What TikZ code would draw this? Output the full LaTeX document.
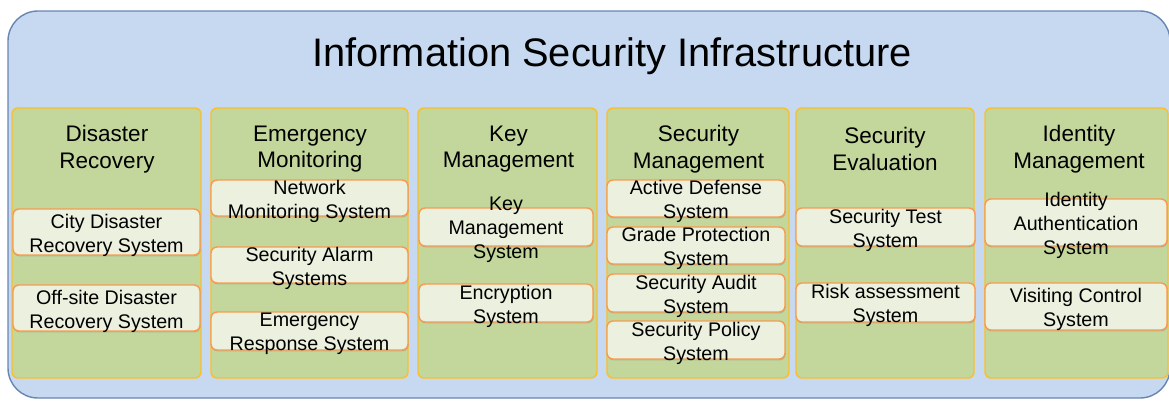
\documentclass[tikz,border=0pt]{standalone}
\usepackage{fontspec}
\setmainfont{Liberation Sans}
\usetikzlibrary{positioning,shadows}
\newdimen\px \px=0.025cm
\definecolor{infofill}{HTML}{C6D9F1}
\definecolor{infodraw}{RGB}{104,134,178}
\definecolor{areafill}{HTML}{C3D69B}
\definecolor{areadraw}{HTML}{FAC02A}
\definecolor{sysfill}{HTML}{EBF1DE}
\definecolor{sysdraw}{HTML}{F79B50}

\begin{document}
\begin{tikzpicture}[x=0.025cm,y=-0.025cm,
every node/.style={align=center},
area/.style={draw=areadraw,fill=areafill,line width=1pt,rounded corners=6\px,minimum height=270\px,inner sep=0},
areatitle/.style={font=\fontsize{16}{19}\selectfont},
sysbox/.style={draw=sysdraw,fill=sysfill,line width=1pt,rounded corners=6\px,inner sep=0,
  drop shadow={shadow xshift=0.4pt,shadow yshift=-1pt,opacity=0.35}},
systext/.style={align=center,yshift=-3\px,font=\fontsize{14}{17}\selectfont}]
\clip (0,0) rectangle (1169,401);
\draw[draw=infodraw,fill=infofill,line width=1pt,rounded corners=30\px] (8,11) rectangle (1170,398);
\node[font=\fontsize{28.3}{32}\selectfont] (title) at (612,56) {Information Security Infrastructure};

% columns
\node[area,minimum width=189\px] (dr) at (106.5,243) {};
\node[area,minimum width=197\px] (em) at (309.5,243) {};
\node[area,minimum width=179\px] (km) at (507.5,243) {};
\node[area,minimum width=182\px] (sm) at (698,243) {};
\node[area,minimum width=178\px] (se) at (885,243) {};
\node[area,minimum width=183\px] (im) at (1076.5,243) {};
\node[areatitle] (dr-t) at (107,149) {Disaster\\Recovery};
\node[areatitle] (em-t) at (310,149) {Emergency\\Monitoring};
\node[areatitle] (km-t) at (508.5,149) {Key\\Management};
\node[areatitle] (sm-t) at (698.5,149) {Security\\Management};
\node[areatitle] (se-t) at (885,149) {Security\\Evaluation};
\node[areatitle] (im-t) at (1079,149) {Identity\\Management};

% systems
\node[sysbox,minimum width=187\px,minimum height=46\px,label={[systext]center:City Disaster\\Recovery System}] (cds) at (106.5,232) {};
\node[sysbox,minimum width=187\px,minimum height=46\px,label={[systext]center:Off-site Disaster\\Recovery System}] (ods) at (106.5,308) {};
\node[sysbox,minimum width=197\px,minimum height=36\px,label={[systext]center:Network\\Monitoring System}] (nms) at (309.5,198) {};
\node[sysbox,minimum width=197\px,minimum height=36\px,label={[systext]center:Security Alarm\\Systems}] (sas) at (309.5,265) {};
\node[sysbox,minimum width=197\px,minimum height=38\px,label={[systext]center:Emergency\\Response System}] (ers) at (309.5,331) {};
\node[sysbox,minimum width=174\px,minimum height=38\px,label={[systext]center:Key\\Management\\System}] (kms) at (506,227) {};
\node[sysbox,minimum width=174\px,minimum height=38\px,label={[systext]center:Encryption\\System}] (ens) at (506,303) {};
\node[sysbox,minimum width=178\px,minimum height=37\px,label={[systext]center:Active Defense\\System}] (ads) at (696,198.5) {};
\node[sysbox,minimum width=178\px,minimum height=37\px,label={[systext]center:Grade Protection\\System}] (gps) at (696,245.5) {};
\node[sysbox,minimum width=178\px,minimum height=38\px,label={[systext]center:Security Audit\\System}] (sau) at (696,293) {};
\node[sysbox,minimum width=178\px,minimum height=38\px,label={[systext]center:Security Policy\\System}] (sps) at (696,340) {};
\node[sysbox,minimum width=179\px,minimum height=38\px,label={[systext]center:Security Test\\System}] (sts) at (885.5,227) {};
\node[sysbox,minimum width=179\px,minimum height=39\px,label={[systext]center:Risk assessment\\System}] (ras) at (885.5,302.5) {};
\node[sysbox,minimum width=182\px,minimum height=47\px,label={[systext]center:Identity\\Authentication\\System}] (ias) at (1076,222.5) {};
\node[sysbox,minimum width=182\px,minimum height=47\px,label={[systext]center:Visiting Control\\System}] (vcs) at (1076,306.5) {};
\end{tikzpicture}
\end{document}
